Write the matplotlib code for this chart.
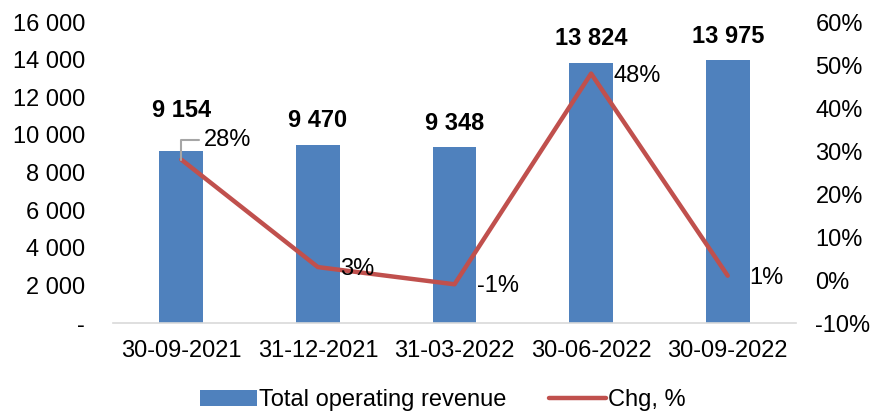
import numpy as np
import matplotlib
matplotlib.use("Agg")
import matplotlib.pyplot as plt

# chart data
dates = ["30-09-2021", "31-12-2021", "31-03-2022", "30-06-2022", "30-09-2022"]
revenue = [9154, 9470, 9348, 13824, 13975]
chg_pct = [28, 3, -1, 48, 1]

BAR_COLOR = "#4F81BD"
LINE_COLOR = "#C0504D"

plt.rcParams["font.family"] = ["Liberation Sans", "DejaVu Sans"]
plt.rcParams["font.size"] = 17

fig = plt.figure(figsize=(8.72, 4.15), dpi=100)
ax = fig.add_axes([113 / 872, 92 / 415, 683 / 872, 301 / 415])
ax2 = ax.twinx()

x = np.arange(len(dates))
ax.bar(x, revenue, width=0.32, color=BAR_COLOR, label="Total operating revenue", zorder=2)
ax.set_xlim(-0.5, len(dates) - 0.5)
ax.set_ylim(0, 16000)
ax.set_yticks(np.arange(0, 16001, 2000))
ax.set_yticklabels(["-" if v == 0 else f"{v:,.0f}".replace(",", " ") for v in np.arange(0, 16001, 2000)])
ax.set_xticks(x)
ax.set_xticklabels(dates)
ax.tick_params(axis="x", length=0, pad=12)
ax.tick_params(axis="y", length=0, pad=20)
for s in ["top", "right", "left"]:
    ax.spines[s].set_visible(False)
ax.spines["bottom"].set_color("#D9D9D9")
ax.spines["bottom"].set_linewidth(1.2)

# bar value labels
for i, v in enumerate(revenue):
    off = 40 if i == 0 else 24
    ax.annotate(f"{v:,.0f}".replace(",", " "), (x[i], v), xytext=(0, off),
                textcoords="offset pixels", ha="center", va="center",
                fontweight="bold")

line, = ax2.plot(x, chg_pct, color=LINE_COLOR, lw=3.2, label="Chg, %", zorder=3,
                 solid_capstyle="round")
ax2.set_ylim(-10, 60)
ax2.set_yticks(np.arange(-10, 61, 10))
ax2.set_yticklabels([f"{v}%" for v in np.arange(-10, 61, 10)])
ax2.tick_params(length=0, pad=14)
for s in ["top", "right", "left", "bottom"]:
    ax2.spines[s].set_visible(False)

# line value labels
for i, v in enumerate(chg_pct):
    if i == 0:
        ax2.annotate(f"{v}%", (x[i], v), xytext=(23, 20), textcoords="offset pixels",
                     ha="left", va="center",
                     arrowprops=dict(arrowstyle="-", color="#A6A6A6", lw=1.5,
                                     shrinkA=2, shrinkB=0,
                                     connectionstyle="angle,angleA=0,angleB=90,rad=0"))
    else:
        ax2.annotate(f"{v}%", (x[i], v), xytext=(22, -2), textcoords="offset pixels",
                     ha="left", va="center")

bars = ax.containers[0]
fig.legend([bars, line], ["Total operating revenue", "Chg, %"], loc="center",
           bbox_to_anchor=(0.508, 0.036), ncol=2, frameon=False,
           handlelength=2.4, handleheight=0.7, columnspacing=1.8, handletextpad=0.1)

fig.savefig("out.png", dpi=100)
